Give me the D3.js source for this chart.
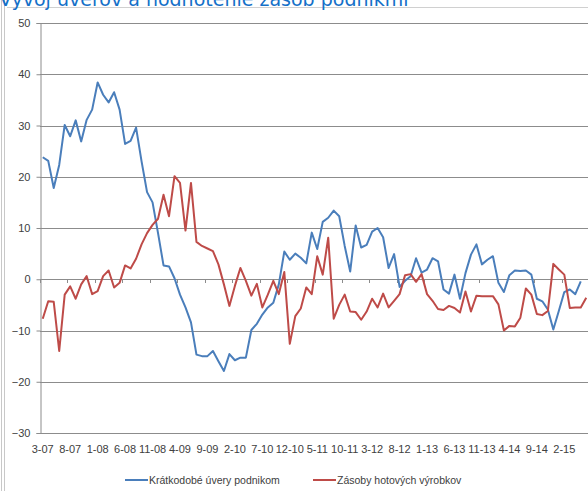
<!DOCTYPE html>
<html>
<head>
<meta charset="utf-8">
<script src="https://cdn.jsdelivr.net/npm/d3@7"></script>
<style>
  body { margin: 0; background: #fff; }
  svg { display: block; }
</style>
</head>
<body>
<div id="chart"></div>
<script>
// months 3-07 .. 6-15, one value per month
var startMonth = 3, startYear = 2007, monthCount = 100;

// Krátkodobé úvery podnikom
var loans = [23.8, 23.1, 17.8, 22.3, 30.1, 27.9, 31.0, 26.9, 31.1, 33.1,
  38.4, 36.0, 34.5, 36.5, 33.1, 26.4, 27.0, 29.6, 23.0, 17.0,
  15.0, 9.0, 2.7, 2.5, 0.2, -3.0, -5.5, -8.4, -14.7, -15.0,
  -15.0, -14.0, -16.0, -17.9, -14.6, -15.8, -15.3, -15.3, -9.9, -8.7,
  -6.9, -5.5, -4.6, -1.0, 5.4, 3.8, 5.0, 4.2, 3.1, 9.1,
  5.9, 11.2, 12.0, 13.4, 12.3, 6.5, 1.5, 10.5, 6.2, 6.7,
  9.3, 10.0, 8.2, 2.2, 4.9, -1.5, -0.3, 0.6, 4.1, 1.3,
  1.9, 4.1, 3.5, -2.0, -2.8, 0.9, -3.8, 1.2, 4.8, 6.8,
  2.9, 3.8, 4.5, -0.7, -2.5, 0.8, 1.7, 1.6, 1.7, 0.9,
  -3.8, -4.3, -5.9, -9.8, -6.2, -2.5, -2.0, -2.9, -0.4, null];

// Zásoby hotových výrobkov
var stocks = [-7.7, -4.3, -4.4, -14.0, -3.0, -1.4, -3.8, -1.0, 0.6, -2.9,
  -2.3, 0.6, 1.7, -1.6, -0.7, 2.7, 2.1, 4.0, 6.8, 9.0,
  10.6, 11.8, 16.5, 12.3, 20.1, 18.8, 9.5, 18.8, 7.3, 6.5,
  6.0, 5.5, 2.9, -1.0, -5.2, -1.3, 2.2, -0.3, -3.2, -0.9,
  -5.5, -3.0, -0.3, -2.9, 1.4, -12.6, -7.2, -5.7, -1.6, -2.9,
  4.5, 0.9, 8.1, -7.7, -5.0, -3.0, -6.3, -6.4, -7.9, -6.3,
  -3.8, -5.5, -2.8, -5.5, -4.2, -2.9, 0.8, 1.0, -0.5, 1.0,
  -2.9, -4.2, -5.8, -6.0, -5.2, -5.6, -6.5, -2.4, -6.3, -3.2,
  -3.3, -3.3, -3.3, -4.9, -10.0, -9.1, -9.2, -7.5, -1.8, -3.0,
  -6.8, -7.0, -6.2, 3.0, 1.9, 0.9, -5.6, -5.5, -5.5, -3.6];

var yTicks = [-30, -20, -10, 0, 10, 20, 30, 40, 50];
var labelStep = 5;
var seriesNames = ['Krátkodobé úvery podnikom', 'Zásoby hotových výrobkov'];
var seriesColors = ['#4a7ebb', '#be4b48'];

var title = 'Vývoj úverov a hodnotenie zásob podnikmi';

// category labels like 3-07
var months = d3.range(monthCount).map(function (i) {
  var m = (startMonth - 1 + i) % 12 + 1;
  var yr = startYear + Math.floor((startMonth - 1 + i) / 12);
  return m + '-' + String(yr).slice(2);
});

var width = 588, height = 491;
// note: "top" is taken by window.top, so prefix everything
var plotLeft = 40, plotRight = 589, plotTop = 23, plotBottom = 433;

var svg = d3.select('#chart').append('svg')
  .attr('width', width)
  .attr('height', height);

var font = '"Liberation Sans", Arial, sans-serif';

// frame bits of the pasted excel chart
svg.append('line').attr('x1', 1.5).attr('x2', 1.5).attr('y1', 0).attr('y2', height)
  .attr('stroke', '#c8c8c8');
svg.append('line').attr('x1', 4.5).attr('x2', 4.5).attr('y1', 0).attr('y2', height)
  .attr('stroke', '#c8c8c8');
svg.append('line').attr('x1', 7).attr('x2', width).attr('y1', 7.5).attr('y2', 7.5)
  .attr('stroke', '#d0d0d0');

// title is cut off at the top edge, like the screenshot
svg.append('text')
  .attr('x', -1).attr('y', 6)
  .attr('fill', '#1470c8')
  .style('font-family', '"DejaVu Sans", Verdana, sans-serif')
  .style('font-size', '19px')
  .text(title);

var x = d3.scaleBand()
  .domain(d3.range(monthCount))
  .range([plotLeft, plotRight])
  .padding(0);

var y = d3.scaleLinear()
  .domain([-30, 50])
  .range([plotBottom, plotTop]);

// gridlines
svg.append('g')
  .selectAll('line')
  .data(yTicks)
  .enter()
  .append('line')
  .attr('x1', plotLeft).attr('x2', width)
  .attr('y1', function (d) { return Math.round(y(d)) + 0.5; })
  .attr('y2', function (d) { return Math.round(y(d)) + 0.5; })
  .attr('stroke', '#8c8c8c');

// y axis
var yAxis = svg.append('g')
  .attr('transform', 'translate(' + (plotLeft + 0.5) + ',0)')
  .call(d3.axisLeft(y).tickValues(yTicks).tickSize(4).tickPadding(6));
yAxis.selectAll('path, line').attr('stroke', '#8c8c8c');
yAxis.selectAll('text')
  .attr('fill', '#404040')
  .style('font-family', font)
  .style('font-size', '11px');

// little ticks hanging from the zero line
svg.append('g')
  .selectAll('line')
  .data(d3.range(0, monthCount, labelStep))
  .enter()
  .append('line')
  .attr('x1', function (d) { return Math.round(x(d)) + 0.5; })
  .attr('x2', function (d) { return Math.round(x(d)) + 0.5; })
  .attr('y1', Math.round(y(0)))
  .attr('y2', Math.round(y(0)) + 4)
  .attr('stroke', '#8c8c8c');

// category labels at the bottom
svg.append('g')
  .selectAll('text')
  .data(d3.range(0, monthCount, labelStep))
  .enter()
  .append('text')
  .attr('x', function (d) { return x(d) + x.bandwidth() / 2; })
  .attr('y', plotBottom + 20)
  .attr('text-anchor', 'middle')
  .attr('fill', '#404040')
  .style('font-family', font)
  .style('font-size', '11px')
  .text(function (d) { return months[d]; });

var line = d3.line()
  .defined(function (d) { return d != null; })
  .x(function (d, i) { return x(i) + x.bandwidth() / 2; })
  .y(function (d) { return y(d); });

[loans, stocks].forEach(function (data, k) {
  svg.append('path')
    .datum(data)
    .attr('d', line)
    .attr('fill', 'none')
    .attr('stroke', seriesColors[k])
    .attr('stroke-width', 2)
    .attr('stroke-linejoin', 'round');
});

// legend
var legendX = [125, 313];
var legend = svg.append('g')
  .selectAll('g')
  .data(seriesNames)
  .enter()
  .append('g')
  .attr('transform', function (d, i) { return 'translate(' + legendX[i] + ',480)'; });

legend.append('line')
  .attr('x1', 0).attr('x2', 23)
  .attr('stroke', function (d, i) { return seriesColors[i]; })
  .attr('stroke-width', 2);

legend.append('text')
  .attr('x', 24).attr('y', 4)
  .attr('fill', '#404040')
  .style('font-family', font)
  .style('font-size', '10.5px')
  .text(function (d) { return d; });
</script>
</body>
</html>
